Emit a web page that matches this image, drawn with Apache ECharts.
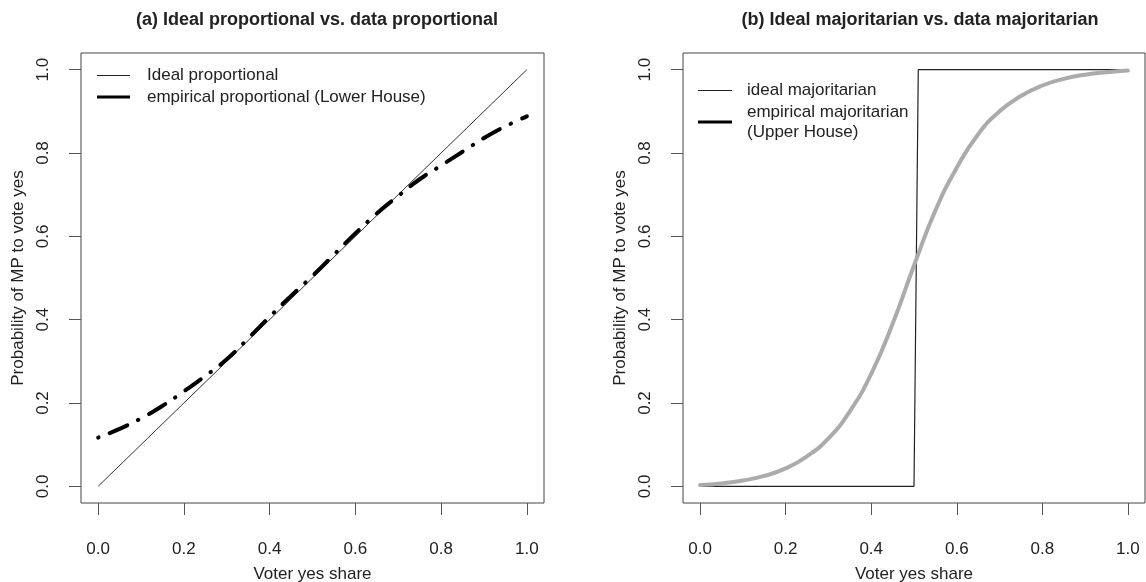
<!DOCTYPE html>
<html>
<head>
<meta charset="utf-8">
<script src="https://cdn.jsdelivr.net/npm/echarts@6/dist/echarts.min.js"></script>
<style>
html,body{margin:0;padding:0;background:#fff;}
#chart{width:1146px;height:582px;}
</style>
</head>
<body>
<div id="chart"></div>
<script>
// ---- data ----
const tickValues = [0, 0.2, 0.4, 0.6, 0.8, 1.0];

const propIdealX = [0, 1];
const propIdealY = [0, 1];

const propEmpX = [0, 0.05, 0.1, 0.15, 0.2, 0.25, 0.3, 0.35, 0.4, 0.45, 0.5, 0.55, 0.6, 0.65, 0.7, 0.75, 0.8, 0.85, 0.9, 0.95, 1.0];
const propEmpY = [0.117, 0.138, 0.163, 0.193, 0.228, 0.265, 0.305, 0.355, 0.407, 0.457, 0.505, 0.556, 0.607, 0.655, 0.697, 0.737, 0.770, 0.803, 0.836, 0.864, 0.888];

const majIdealX = [0, 0.5, 0.51, 1.0];
const majIdealY = [0, 0, 1, 1];

const majEmpX = [0, 0.05, 0.1, 0.15, 0.2, 0.25, 0.3, 0.35, 0.4, 0.45, 0.5, 0.55, 0.6, 0.65, 0.7, 0.75, 0.8, 0.85, 0.9, 0.95, 1.0];
const majEmpY = [0.003, 0.007, 0.014, 0.025, 0.043, 0.072, 0.115, 0.180, 0.270, 0.390, 0.530, 0.662, 0.765, 0.845, 0.900, 0.937, 0.962, 0.978, 0.988, 0.994, 0.998];

const titles = ['(a) Ideal proportional vs. data proportional', '(b) Ideal majoritarian vs. data majoritarian'];
const xName = 'Voter yes share';
const yName = 'Probability of MP to vote yes';

// ---- helpers ----
const zip = (xs, ys) => xs.map((x, i) => [x, ys[i]]);
const FONT = '"Liberation Sans", Arial, Helvetica, sans-serif';
const TXT = '#222';
const FS = 17;

function xAxisFor(gi) {
  return {
    type: 'value', gridIndex: gi, min: -0.04, max: 1.04,
    axisLine: {show: false, onZero: false},
    splitLine: {show: false},
    axisTick: {show: true, inside: false, customValues: tickValues, length: 12, lineStyle: {color: '#555', width: 1}},
    axisLabel: {show: true, customValues: tickValues, formatter: v => v.toFixed(1), margin: 38,
      fontFamily: FONT, fontSize: FS, color: TXT},
    name: xName, nameLocation: 'middle', nameGap: 63,
    nameTextStyle: {fontFamily: FONT, fontSize: FS, color: TXT}
  };
}
function yAxisFor(gi) {
  return {
    type: 'value', gridIndex: gi, min: -0.04, max: 1.04,
    axisLine: {show: false, onZero: false},
    splitLine: {show: false},
    axisTick: {show: true, inside: false, customValues: tickValues, length: 12, lineStyle: {color: '#555', width: 1}},
    axisLabel: {show: true, customValues: tickValues, formatter: v => v.toFixed(1), margin: 29, rotate: 90,
      fontFamily: FONT, fontSize: FS, color: TXT},
    name: yName, nameLocation: 'middle', nameGap: 54, nameRotate: 90,
    nameTextStyle: {fontFamily: FONT, fontSize: FS, color: TXT}
  };
}

const chart = echarts.init(document.getElementById('chart'), null, {renderer: 'canvas'});

const option = {
  backgroundColor: '#fff',
  animation: false,
  title: [
    {text: titles[0], left: 312, top: 6, textAlign: 'center',
      textStyle: {fontFamily: FONT, fontSize: 18, fontWeight: 'bold', color: TXT}},
    {text: titles[1], left: 915, top: 6, textAlign: 'center',
      textStyle: {fontFamily: FONT, fontSize: 18, fontWeight: 'bold', color: TXT}}
  ],
  grid: [
    {left: 81, top: 53, width: 463, height: 450, outerBoundsMode: 'none', containLabel: false,
      show: true, borderColor: '#444', borderWidth: 1, backgroundColor: 'transparent'},
    {left: 683, top: 53, width: 462, height: 450, outerBoundsMode: 'none', containLabel: false,
      show: true, borderColor: '#444', borderWidth: 1, backgroundColor: 'transparent'}
  ],
  xAxis: [xAxisFor(0), xAxisFor(1)],
  yAxis: [yAxisFor(0), yAxisFor(1)],
  series: [
    {type: 'line', name: 'Ideal proportional', xAxisIndex: 0, yAxisIndex: 0, data: zip(propIdealX, propIdealY),
      showSymbol: false, symbol: 'none', lineStyle: {color: '#333', width: 1}},
    {type: 'line', name: 'empirical proportional (Lower House)', xAxisIndex: 0, yAxisIndex: 0, data: zip(propEmpX, propEmpY),
      showSymbol: false, symbol: 'none', smooth: true,
      lineStyle: {color: '#000', width: 4, type: [0.5, 12, 19, 12], cap: 'round'}},
    {type: 'line', name: 'ideal majoritarian', xAxisIndex: 1, yAxisIndex: 1, data: zip(majIdealX, majIdealY),
      showSymbol: false, symbol: 'none', lineStyle: {color: '#222', width: 1.2}},
    {type: 'line', name: 'empirical majoritarian (Upper House)', xAxisIndex: 1, yAxisIndex: 1, data: zip(majEmpX, majEmpY),
      showSymbol: false, symbol: 'none', smooth: true,
      lineStyle: {color: '#ababab', width: 4, cap: 'round'}}
  ],
  graphic: [
    // legend (a)
    {type: 'line', shape: {x1: 97, y1: 75.5, x2: 130, y2: 75.5}, style: {stroke: '#222', lineWidth: 1}},
    {type: 'line', shape: {x1: 97, y1: 97, x2: 130, y2: 97}, style: {stroke: '#000', lineWidth: 3}},
    {type: 'text', x: 147, y: 75, style: {text: 'Ideal proportional', font: FS + 'px ' + FONT, fill: TXT, textVerticalAlign: 'middle'}},
    {type: 'text', x: 147, y: 97, style: {text: 'empirical proportional (Lower House)', font: FS + 'px ' + FONT, fill: TXT, textVerticalAlign: 'middle'}},
    // legend (b)
    {type: 'line', shape: {x1: 698, y1: 90.5, x2: 732, y2: 90.5}, style: {stroke: '#222', lineWidth: 1}},
    {type: 'line', shape: {x1: 698, y1: 122, x2: 732, y2: 122}, style: {stroke: '#000', lineWidth: 3}},
    {type: 'text', x: 747, y: 90, style: {text: 'ideal majoritarian', font: FS + 'px ' + FONT, fill: TXT, textVerticalAlign: 'middle'}},
    {type: 'text', x: 747, y: 112, style: {text: 'empirical majoritarian', font: FS + 'px ' + FONT, fill: TXT, textVerticalAlign: 'middle'}},
    {type: 'text', x: 747, y: 132, style: {text: '(Upper House)', font: FS + 'px ' + FONT, fill: TXT, textVerticalAlign: 'middle'}}
  ]
};
chart.setOption(option);
</script>
</body>
</html>
